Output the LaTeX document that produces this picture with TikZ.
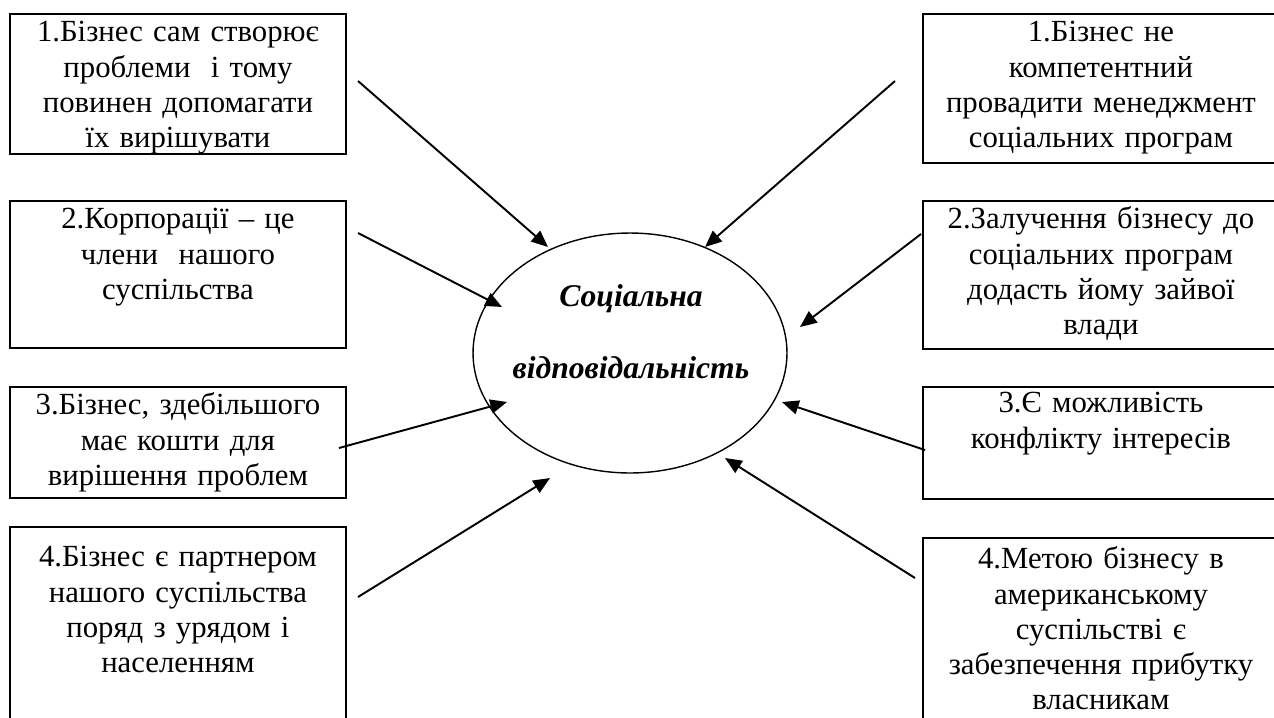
\documentclass[tikz,border=0pt]{standalone}
\usepackage{fontspec}
\setmainfont{Liberation Serif}
\usetikzlibrary{arrows.meta,shapes.geometric}

\begin{document}
\begin{tikzpicture}[x=0.02cm, y=-0.02cm,
    argbox/.style={draw, line width=1.1pt, inner sep=0pt, anchor=north west,
      align=center, text height=0.56cm,
      font=\fontsize{17.5}{20}\selectfont},
    leftbox/.style={argbox, text width=6.72cm},
    rightbox/.style={argbox, text width=7.12cm},
    arr/.style={line width=1.1pt, -{Triangle[length=9.5pt, width=8pt]}}]
  \useasboundingbox (0,0) rectangle (1274,717);
  \clip (0,0) rectangle (1274,717);

  \node[leftbox, text depth=2.24cm] (za1) at (9,13) {1.Бізнес сам створює\\ проблеми~~і тому\\ повинен допомагати\\ їх вирішувати};
  \node[leftbox, text depth=2.38cm] (za2) at (9,200) {2.Корпорації – це\\ члени~~нашого\\ суспільства};
  \node[leftbox, text depth=1.66cm] (za3) at (9,386) {3.Бізнес, здебільшого\\ має кошти для\\ вирішення проблем};
  \node[leftbox, text height=0.8cm, text depth=5cm] (za4) at (9,526) {4.Бізнес є партнером\\ нашого суспільства\\ поряд з урядом і\\ населенням};

  \node[rightbox, text depth=2.42cm] (proty1) at (922,13) {1.Бізнес не\\ компетентний\\ провадити менеджмент\\ соціальних програм};
  \node[rightbox, text depth=2.4cm] (proty2) at (922,200) {2.Залучення бізнесу до\\ соціальних програм\\ додасть йому зайвої\\ влади};
  \node[rightbox, text height=0.52cm, text depth=1.72cm] (proty3) at (922,386) {3.Є можливість\\ конфлікту інтересів};
  \node[rightbox, text height=0.62cm, text depth=5cm] (proty4) at (922,537) {4.Метою бізнесу в\\ американському\\ суспільстві є\\ забезпечення прибутку\\ власникам};

  \node[draw, ellipse, line width=0.8pt, minimum width=6.28cm, minimum height=4.8cm, inner sep=0pt] (vidp) at (630,353) {};
  \node[anchor=north, inner sep=0pt, text width=6cm, align=center,
    font=\fontsize{18}{41}\selectfont\bfseries\itshape] (vidpt) at (631,284) {Соціальна\\ відповідальність};

  \coordinate (za1s) at (358,81);   \coordinate (za1e) at (548,247);
  \coordinate (za2s) at (358,233);  \coordinate (za2e) at (502,307);
  \coordinate (za3s) at (339,448);  \coordinate (za3e) at (507,402);
  \coordinate (za4s) at (358,597);  \coordinate (za4e) at (550,478);
  \coordinate (proty1s) at (895,81);  \coordinate (proty1e) at (705,247);
  \coordinate (proty2s) at (921,234); \coordinate (proty2e) at (800,327);
  \coordinate (proty3s) at (925,450); \coordinate (proty3e) at (782,402);
  \coordinate (proty4s) at (915,578); \coordinate (proty4e) at (725,458);

  \draw[arr] (za1s) -- (za1e);
  \draw[arr] (za2s) -- (za2e);
  \draw[arr] (za3s) -- (za3e);
  \draw[arr] (za4s) -- (za4e);
  \draw[arr] (proty1s) -- (proty1e);
  \draw[arr] (proty2s) -- (proty2e);
  \draw[arr] (proty3s) -- (proty3e);
  \draw[arr] (proty4s) -- (proty4e);
\end{tikzpicture}
\end{document}
